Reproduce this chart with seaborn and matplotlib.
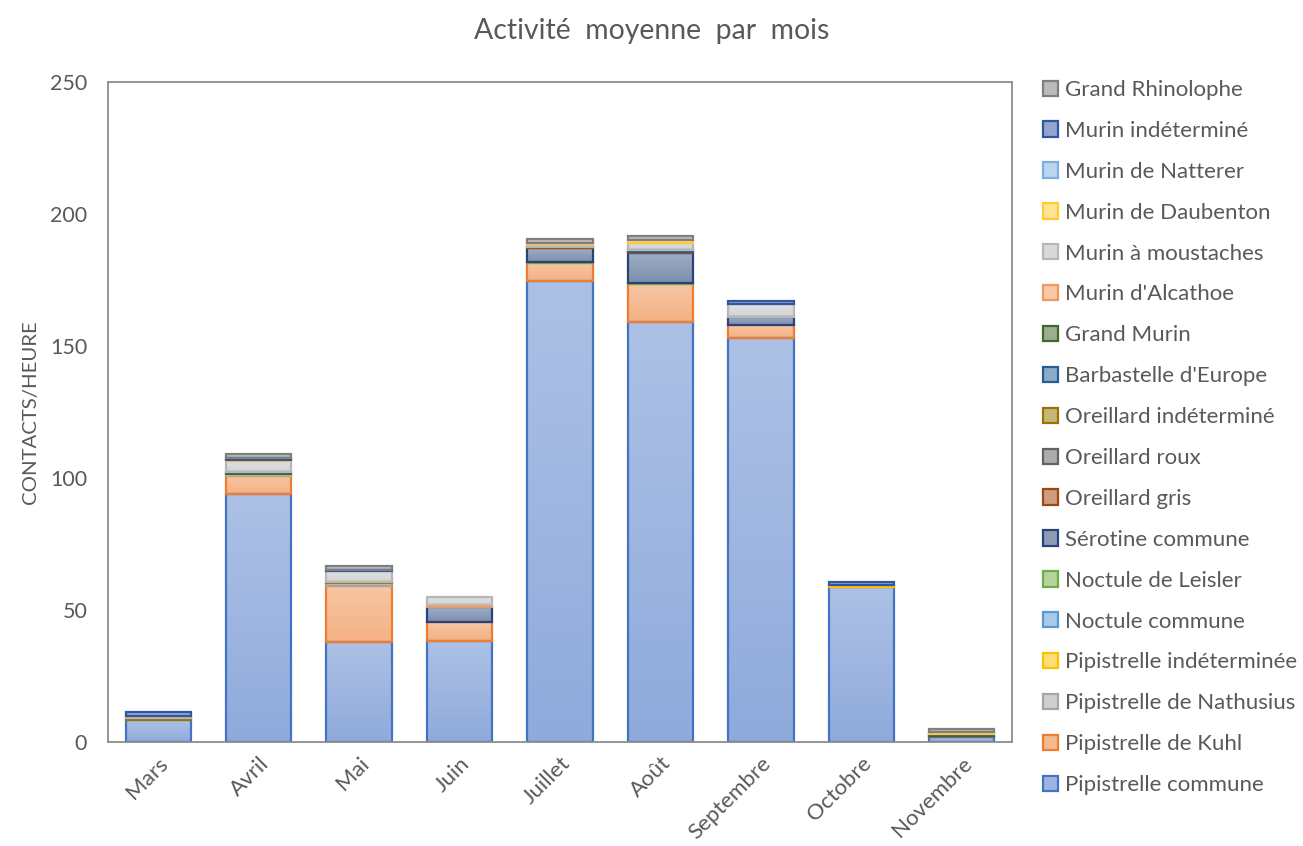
import numpy as np
import pandas as pd
import matplotlib
matplotlib.use("Agg")
import matplotlib.pyplot as plt
from matplotlib.colors import to_rgb, LinearSegmentedColormap
from matplotlib.patches import Patch
import seaborn as sns

# ---- data (contacts / heure) ----
mois = ["Mars", "Avril", "Mai", "Juin", "Juillet", "Août", "Septembre", "Octobre", "Novembre"]

especes = [
    "Pipistrelle commune", "Pipistrelle de Kuhl", "Pipistrelle de Nathusius",
    "Pipistrelle indéterminée", "Noctule commune", "Noctule de Leisler",
    "Sérotine commune", "Oreillard gris", "Oreillard roux", "Oreillard indéterminé",
    "Barbastelle d'Europe", "Grand Murin", "Murin d'Alcathoe", "Murin à moustaches",
    "Murin de Daubenton", "Murin de Natterer", "Murin indéterminé", "Grand Rhinolophe",
]

pip_commune     = [8.3, 93.8, 38.0, 38.4, 174.6, 159.0, 152.9, 58.7, 1.9]
pip_kuhl        = [0, 6.9, 21.1, 7.2, 7.0, 14.4, 4.9, 0, 0]
pip_nathusius   = [0, 0.3, 1.0, 0, 0, 0, 0, 0, 0]
pip_indet       = [0, 0.5, 0, 0, 0, 0, 0, 0.7, 0]
noctule_commune = [0, 0, 0, 0, 0, 0, 0, 0, 0]
noctule_leisler = [0, 0, 0, 0, 0.3, 0.4, 0, 0, 0]
serotine        = [0, 0, 0, 5.4, 5.3, 11.3, 3.1, 0, 0]
oreillard_gris  = [0, 0, 0, 0, 0.4, 0.5, 0, 0, 0]
oreillard_roux  = [0, 0, 0, 0, 0, 0, 0, 0, 0]
oreillard_indet = [0.7, 0, 0.6, 0, 0, 0, 0, 0, 0.5]
barbastelle     = [0, 0.6, 0, 0, 0, 0.6, 0, 0, 0.8]
grand_murin     = [0, 0, 0, 0, 0, 0, 0, 0, 0]
alcathoe        = [0, 0, 0, 0.9, 0, 0, 0, 0, 0]
moustaches      = [0.9, 4.4, 4.2, 3.1, 1.1, 3.0, 5.0, 0, 0]
daubenton       = [0, 0.5, 0, 0, 0.3, 0.8, 0, 0, 0.5]
natterer        = [0, 0, 0, 0, 0, 0, 0, 0, 0]
murin_indet     = [1.3, 0.5, 0.3, 0, 0, 0, 1.3, 1.2, 0]
grand_rhino     = [0, 1.5, 1.5, 0, 1.5, 1.6, 0, 0, 1.3]

valeurs = [
    pip_commune, pip_kuhl, pip_nathusius, pip_indet, noctule_commune, noctule_leisler,
    serotine, oreillard_gris, oreillard_roux, oreillard_indet, barbastelle, grand_murin,
    alcathoe, moustaches, daubenton, natterer, murin_indet, grand_rhino,
]

# outline colours of each series (fills are lighter tints of these)
contours = [
    "#4472C4", "#ED7D31", "#A5A5A5", "#FFC000", "#5B9BD5", "#70AD47",
    "#264478", "#9E480E", "#636363", "#997300", "#255E91", "#43682B",
    "#F1975A", "#B7B7B7", "#FFCD33", "#7CAFDD", "#2F55A4", "#7F7F7F",
]


def tint(c, f):
    r = np.array(to_rgb(c))
    return tuple(r + (1 - r) * f)


# ---- style ----
sns.set_theme(style="white")
plt.rcParams["font.family"] = ["Lato", "DejaVu Sans"]
gris_txt = "#595959"

fig = plt.figure(figsize=(13.03, 8.46), dpi=100)
ax = fig.add_axes([0.0829, 0.1229, 0.6938, 0.7802])

df = pd.DataFrame({"mois": np.tile(mois, len(especes)),
                   "espece": np.repeat(especes, len(mois)),
                   "valeur": np.concatenate(valeurs)})
df["base"] = df.groupby("mois", sort=False)["valeur"].cumsum() - df["valeur"]

largeur = 0.65
segments = []
for nom, contour in zip(especes, contours):
    sub = df[(df["espece"] == nom) & (df["valeur"] > 0)]
    if sub.empty:
        continue
    sub = sub.assign(pos=sub["mois"].map({m: i for i, m in enumerate(mois)})).sort_values("pos")
    n0 = len(ax.patches)
    sns.barplot(data=sub, x="mois", y="valeur", order=mois, bottom=sub["base"].values,
                color=tint(contour, 0.47), edgecolor=contour, linewidth=1.6,
                width=largeur, errorbar=None, ax=ax, zorder=2)
    for p in ax.patches[n0:]:
        segments.append((p, contour))

# vertical gradient fill inside each segment (lighter at the top)
for p, contour in segments:
    x0, y0 = p.get_x(), p.get_y()
    w, h = p.get_width(), p.get_height()
    cmap = LinearSegmentedColormap.from_list("g", [tint(contour, 0.40), tint(contour, 0.56)])
    grad = np.linspace(0, 1, 64).reshape(-1, 1)
    ax.imshow(grad, cmap=cmap, extent=[x0, x0 + w, y0, y0 + h], origin="lower",
              aspect="auto", interpolation="bilinear", zorder=1.5)
    p.set_facecolor("none")

ax.set_xlim(-0.5, len(mois) - 0.5)
ax.set_ylim(0, 250)
ax.set_yticks([0, 50, 100, 150, 200, 250])
ax.set_xlabel("")
ax.set_ylabel("CONTACTS/HEURE", color=gris_txt, fontsize=14.7, labelpad=8)
ax.tick_params(axis="y", colors=gris_txt, labelsize=15.5, length=0, pad=15)
ax.tick_params(axis="x", colors=gris_txt, labelsize=16, length=0, pad=8)
plt.setp(ax.get_xticklabels(), rotation=45, ha="right", rotation_mode="anchor")
for s in ax.spines.values():
    s.set_visible(True)
    s.set_color("#8C8C8C")
    s.set_linewidth(1.3)

fig.text(0.5, 0.963, "Activité  moyenne  par  mois", ha="center", va="center",
         fontsize=20.4, color=gris_txt)

# legend, last series on top
poignees = [Patch(facecolor=tint(c, 0.47), edgecolor=c, linewidth=1.6)
            for c in contours][::-1]
leg = fig.legend(poignees, especes[::-1], loc="upper left",
                 bbox_to_anchor=(1043 / 1303, 1 - 80 / 846), frameon=False,
                 fontsize=16, labelspacing=0.94, handlelength=0.68, handleheight=0.68,
                 handletextpad=0.3, borderpad=0, borderaxespad=0)
for t in leg.get_texts():
    t.set_color(gris_txt)

fig.savefig("out.png", dpi=100)
